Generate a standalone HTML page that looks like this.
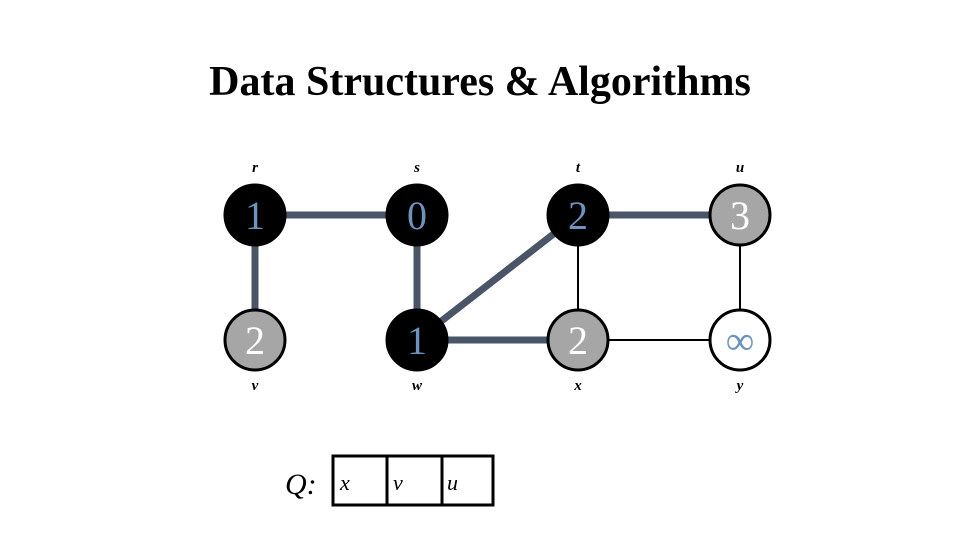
<!DOCTYPE html>
<html><head><style>
body{margin:0;width:960px;height:540px;background:#fff;overflow:hidden}
</style></head><body>
<svg width="960" height="540" xmlns="http://www.w3.org/2000/svg" font-family="Liberation Serif, serif">
<text x="480" y="95" text-anchor="middle" font-size="42" font-weight="bold">Data Structures &amp; Algorithms</text>
<g stroke="#4a5567" stroke-width="7">
<line x1="255" y1="215" x2="417" y2="215"/>
<line x1="255" y1="215" x2="255" y2="340"/>
<line x1="417" y1="215" x2="417" y2="340"/>
<line x1="417" y1="340" x2="578" y2="340"/>
<line x1="417" y1="340" x2="578" y2="215"/>
<line x1="578" y1="215" x2="740" y2="215"/>
</g>
<g stroke="#000" stroke-width="2">
<line x1="578" y1="215" x2="578" y2="340"/>
<line x1="740" y1="215" x2="740" y2="340"/>
<line x1="578" y1="340" x2="740" y2="340"/>
</g>
<g stroke="#000" stroke-width="3">
<circle cx="255" cy="215" r="30" fill="#000"/>
<circle cx="417" cy="215" r="30" fill="#000"/>
<circle cx="578" cy="215" r="30" fill="#000"/>
<circle cx="740" cy="215" r="30" fill="#a6a6a6"/>
<circle cx="255" cy="340" r="30" fill="#a6a6a6"/>
<circle cx="417" cy="340" r="30" fill="#000"/>
<circle cx="578" cy="340" r="30" fill="#a6a6a6"/>
<circle cx="740" cy="340" r="30" fill="#fff"/>
</g>
<g font-size="40" text-anchor="middle">
<text x="255" y="229" fill="#6e93bf">1</text>
<text x="417" y="229" fill="#6e93bf">0</text>
<text x="578" y="229" fill="#6e93bf">2</text>
<text x="740" y="229" fill="#fff">3</text>
<text x="255" y="354" fill="#fff">2</text>
<text x="417" y="354" fill="#6e93bf">1</text>
<text x="578" y="354" fill="#fff">2</text>
<text x="740" y="354" fill="#6e93bf">∞</text>
</g>
<g font-size="15" font-style="italic" font-weight="bold" text-anchor="middle">
<text x="255" y="172">r</text><text x="417" y="172">s</text><text x="578" y="172">t</text><text x="740" y="172">u</text>
<text x="255" y="390">v</text><text x="417" y="390">w</text><text x="578" y="390">x</text><text x="740" y="390">y</text>
</g>
<text x="285" y="494" font-size="30" font-style="italic">Q:</text>
<rect x="333" y="456" width="160" height="49" fill="none" stroke="#000" stroke-width="3"/>
<line x1="387" y1="456" x2="387" y2="505" stroke="#000" stroke-width="3"/>
<line x1="442" y1="456" x2="442" y2="505" stroke="#000" stroke-width="3"/>
<g font-size="22" font-style="italic">
<text x="340" y="490">x</text><text x="393" y="490">v</text><text x="447" y="490">u</text>
</g>
</svg>
</body></html>
